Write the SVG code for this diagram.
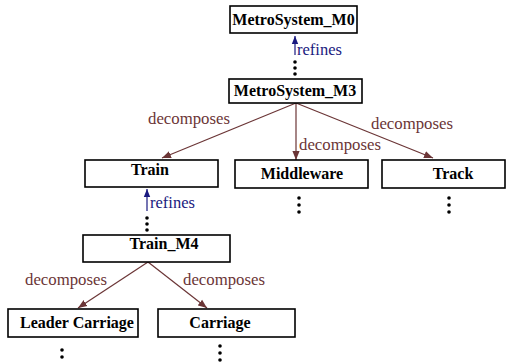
<svg xmlns="http://www.w3.org/2000/svg" width="507" height="363" viewBox="0 0 507 363">
<defs>
<style>
.box{fill:#fff;stroke:#000;stroke-width:1.6}
.nl{font-family:"Liberation Serif",serif;font-weight:bold;font-size:16px;fill:#000;text-anchor:middle}
.dec{stroke:#6b3536;stroke-width:1.2;fill:none}
.ref{stroke:#1a1a80;stroke-width:1.2;fill:none}
.dl{font-family:"Liberation Serif",serif;font-size:16.8px;fill:#6b3536}
.rl{font-family:"Liberation Serif",serif;font-size:16.5px;fill:#1a1a80}
.dot{fill:#000}
</style>
<marker id="ad" viewBox="0 0 10 10" refX="10" refY="5" markerWidth="9" markerHeight="9" markerUnits="userSpaceOnUse" orient="auto"><path d="M0,1 L10,5 L0,9 Z" fill="#6b3536"/></marker>
<marker id="ar" viewBox="0 0 10 10" refX="10" refY="5" markerWidth="8" markerHeight="8" markerUnits="userSpaceOnUse" orient="auto"><path d="M0,1 L10,5 L0,9 Z" fill="#1a1a80"/></marker>
</defs>
<g id="connectors">
<line class="ref" x1="295" y1="55" x2="295" y2="36" marker-end="url(#ar)"/>
<text class="rl" x="297" y="55">refines</text>
<circle class="dot" cx="295" cy="62" r="1.8"/><circle class="dot" cx="295" cy="68" r="1.8"/><circle class="dot" cx="295" cy="74" r="1.8"/>
<line class="dec" x1="296" y1="103" x2="162" y2="158" marker-end="url(#ad)"/>
<line class="dec" x1="296" y1="103" x2="296" y2="160" marker-end="url(#ad)"/>
<line class="dec" x1="296" y1="103" x2="433" y2="158" marker-end="url(#ad)"/>
<text class="dl" x="148" y="124">decomposes</text>
<text class="dl" x="299" y="150">decomposes</text>
<text class="dl" x="371" y="129">decomposes</text>
<line class="ref" x1="147" y1="211" x2="147" y2="189" marker-end="url(#ar)"/>
<text class="rl" x="150" y="208">refines</text>
<circle class="dot" cx="147" cy="218" r="1.8"/><circle class="dot" cx="147" cy="224" r="1.8"/><circle class="dot" cx="147" cy="230" r="1.8"/>
<circle class="dot" cx="299" cy="198" r="1.8"/><circle class="dot" cx="299" cy="205" r="1.8"/><circle class="dot" cx="299" cy="212" r="1.8"/>
<circle class="dot" cx="449" cy="198" r="1.8"/><circle class="dot" cx="449" cy="205" r="1.8"/><circle class="dot" cx="449" cy="212" r="1.8"/>
<line class="dec" x1="148" y1="262" x2="78" y2="308" marker-end="url(#ad)"/>
<line class="dec" x1="148" y1="262" x2="207" y2="308" marker-end="url(#ad)"/>
<text class="dl" x="25" y="285">decomposes</text>
<text class="dl" x="183" y="285">decomposes</text>
<circle class="dot" cx="62" cy="350" r="1.8"/><circle class="dot" cx="62" cy="357" r="1.8"/>
<circle class="dot" cx="220" cy="346" r="1.8"/><circle class="dot" cx="220" cy="353" r="1.8"/><circle class="dot" cx="220" cy="360" r="1.8"/>
</g>
<g id="M0"><rect class="box" x="230" y="6" width="127" height="27"/><text class="nl" x="293.5" y="25">MetroSystem_M0</text></g>
<g id="M3"><rect class="box" x="229" y="79" width="133" height="24"/><text class="nl" x="295" y="96">MetroSystem_M3</text></g>
<g id="Train"><rect class="box" x="85" y="160" width="133" height="27"/><text class="nl" x="150" y="175">Train</text></g>
<g id="Middleware"><rect class="box" x="235" y="160" width="133" height="28"/><text class="nl" x="302" y="179">Middleware</text></g>
<g id="Track"><rect class="box" x="382" y="160" width="123" height="28"/><text class="nl" x="453" y="179">Track</text></g>
<g id="Train_M4"><rect class="box" x="83" y="235" width="147" height="27"/><text class="nl" x="164" y="249">Train_M4</text></g>
<g id="LeaderCarriage"><rect class="box" x="8" y="309" width="130" height="28"/><text class="nl" x="77" y="328">Leader Carriage</text></g>
<g id="Carriage"><rect class="box" x="158" y="309" width="137" height="28"/><text class="nl" x="220" y="328">Carriage</text></g>
</svg>
